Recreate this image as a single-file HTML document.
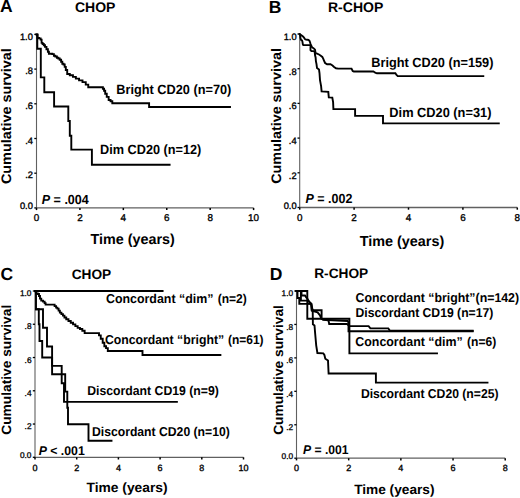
<!DOCTYPE html>
<html><head><meta charset="utf-8"><style>
html,body{margin:0;padding:0;background:#fff;}
svg{display:block;}
</style></head><body>
<svg width="520" height="498" viewBox="0 0 520 498" font-family="Liberation Sans, sans-serif" font-weight="bold" fill="#000" text-rendering="geometricPrecision">
<line x1="36.50" y1="34.40" x2="36.50" y2="207.90" stroke="#606060" stroke-width="1.1"/>
<line x1="36.50" y1="207.90" x2="253.60" y2="207.90" stroke="#606060" stroke-width="1.3"/>
<line x1="34.30" y1="207.90" x2="36.50" y2="207.90" stroke="#000" stroke-width="1.3"/>
<text x="32.90" y="208.90" font-size="9.3" text-anchor="end" font-weight="normal" stroke="#000" stroke-width="0.35">0.0</text>
<line x1="34.30" y1="173.20" x2="36.50" y2="173.20" stroke="#000" stroke-width="1.3"/>
<text x="32.90" y="178.40" font-size="9.3" text-anchor="end" font-weight="normal" stroke="#000" stroke-width="0.35">.2</text>
<line x1="34.30" y1="138.50" x2="36.50" y2="138.50" stroke="#000" stroke-width="1.3"/>
<text x="32.90" y="143.70" font-size="9.3" text-anchor="end" font-weight="normal" stroke="#000" stroke-width="0.35">.4</text>
<line x1="34.30" y1="103.80" x2="36.50" y2="103.80" stroke="#000" stroke-width="1.3"/>
<text x="32.90" y="109.00" font-size="9.3" text-anchor="end" font-weight="normal" stroke="#000" stroke-width="0.35">.6</text>
<line x1="34.30" y1="69.10" x2="36.50" y2="69.10" stroke="#000" stroke-width="1.3"/>
<text x="32.90" y="74.30" font-size="9.3" text-anchor="end" font-weight="normal" stroke="#000" stroke-width="0.35">.8</text>
<line x1="34.30" y1="34.40" x2="36.50" y2="34.40" stroke="#000" stroke-width="1.3"/>
<text x="32.90" y="39.60" font-size="9.3" text-anchor="end" font-weight="normal" stroke="#000" stroke-width="0.35">1.0</text>
<line x1="36.50" y1="207.90" x2="36.50" y2="210.10" stroke="#000" stroke-width="1.5"/>
<text x="36.50" y="220.90" font-size="9.9" text-anchor="middle" font-weight="normal" stroke="#000" stroke-width="0.35">0</text>
<line x1="79.92" y1="207.90" x2="79.92" y2="210.10" stroke="#000" stroke-width="1.5"/>
<text x="79.92" y="220.90" font-size="9.9" text-anchor="middle" font-weight="normal" stroke="#000" stroke-width="0.35">2</text>
<line x1="123.34" y1="207.90" x2="123.34" y2="210.10" stroke="#000" stroke-width="1.5"/>
<text x="123.34" y="220.90" font-size="9.9" text-anchor="middle" font-weight="normal" stroke="#000" stroke-width="0.35">4</text>
<line x1="166.76" y1="207.90" x2="166.76" y2="210.10" stroke="#000" stroke-width="1.5"/>
<text x="166.76" y="220.90" font-size="9.9" text-anchor="middle" font-weight="normal" stroke="#000" stroke-width="0.35">6</text>
<line x1="210.18" y1="207.90" x2="210.18" y2="210.10" stroke="#000" stroke-width="1.5"/>
<text x="210.18" y="220.90" font-size="9.9" text-anchor="middle" font-weight="normal" stroke="#000" stroke-width="0.35">8</text>
<line x1="253.60" y1="207.90" x2="253.60" y2="210.10" stroke="#000" stroke-width="1.5"/>
<text x="253.60" y="220.90" font-size="9.9" text-anchor="middle" font-weight="normal" stroke="#000" stroke-width="0.35">10</text>
<line x1="299.70" y1="34.00" x2="299.70" y2="207.50" stroke="#606060" stroke-width="1.1"/>
<line x1="299.70" y1="207.50" x2="517.30" y2="207.50" stroke="#606060" stroke-width="1.3"/>
<line x1="297.50" y1="207.50" x2="299.70" y2="207.50" stroke="#000" stroke-width="1.3"/>
<text x="296.60" y="208.50" font-size="9.3" text-anchor="end" font-weight="normal" stroke="#000" stroke-width="0.35">0.0</text>
<line x1="297.50" y1="172.80" x2="299.70" y2="172.80" stroke="#000" stroke-width="1.3"/>
<text x="296.60" y="178.70" font-size="9.3" text-anchor="end" font-weight="normal" stroke="#000" stroke-width="0.35">.2</text>
<line x1="297.50" y1="138.10" x2="299.70" y2="138.10" stroke="#000" stroke-width="1.3"/>
<text x="296.60" y="144.00" font-size="9.3" text-anchor="end" font-weight="normal" stroke="#000" stroke-width="0.35">.4</text>
<line x1="297.50" y1="103.40" x2="299.70" y2="103.40" stroke="#000" stroke-width="1.3"/>
<text x="296.60" y="109.30" font-size="9.3" text-anchor="end" font-weight="normal" stroke="#000" stroke-width="0.35">.6</text>
<line x1="297.50" y1="68.70" x2="299.70" y2="68.70" stroke="#000" stroke-width="1.3"/>
<text x="296.60" y="74.60" font-size="9.3" text-anchor="end" font-weight="normal" stroke="#000" stroke-width="0.35">.8</text>
<line x1="297.50" y1="34.00" x2="299.70" y2="34.00" stroke="#000" stroke-width="1.3"/>
<text x="296.60" y="39.90" font-size="9.3" text-anchor="end" font-weight="normal" stroke="#000" stroke-width="0.35">1.0</text>
<line x1="299.70" y1="207.50" x2="299.70" y2="209.70" stroke="#000" stroke-width="1.5"/>
<text x="299.70" y="220.70" font-size="9.9" text-anchor="middle" font-weight="normal" stroke="#000" stroke-width="0.35">0</text>
<line x1="354.10" y1="207.50" x2="354.10" y2="209.70" stroke="#000" stroke-width="1.5"/>
<text x="354.10" y="220.70" font-size="9.9" text-anchor="middle" font-weight="normal" stroke="#000" stroke-width="0.35">2</text>
<line x1="408.50" y1="207.50" x2="408.50" y2="209.70" stroke="#000" stroke-width="1.5"/>
<text x="408.50" y="220.70" font-size="9.9" text-anchor="middle" font-weight="normal" stroke="#000" stroke-width="0.35">4</text>
<line x1="462.90" y1="207.50" x2="462.90" y2="209.70" stroke="#000" stroke-width="1.5"/>
<text x="462.90" y="220.70" font-size="9.9" text-anchor="middle" font-weight="normal" stroke="#000" stroke-width="0.35">6</text>
<line x1="517.30" y1="207.50" x2="517.30" y2="209.70" stroke="#000" stroke-width="1.5"/>
<text x="517.30" y="220.70" font-size="9.9" text-anchor="middle" font-weight="normal" stroke="#000" stroke-width="0.35">8</text>
<line x1="35.00" y1="291.00" x2="35.00" y2="457.30" stroke="#606060" stroke-width="1.1"/>
<line x1="35.00" y1="457.30" x2="243.50" y2="457.30" stroke="#606060" stroke-width="1.3"/>
<line x1="32.80" y1="457.30" x2="35.00" y2="457.30" stroke="#000" stroke-width="1.3"/>
<text x="31.50" y="458.30" font-size="8.3" text-anchor="end" font-weight="normal" stroke="#000" stroke-width="0.3">0.0</text>
<line x1="32.80" y1="424.04" x2="35.00" y2="424.04" stroke="#000" stroke-width="1.3"/>
<text x="31.50" y="429.24" font-size="8.3" text-anchor="end" font-weight="normal" stroke="#000" stroke-width="0.3">.2</text>
<line x1="32.80" y1="390.78" x2="35.00" y2="390.78" stroke="#000" stroke-width="1.3"/>
<text x="31.50" y="395.98" font-size="8.3" text-anchor="end" font-weight="normal" stroke="#000" stroke-width="0.3">.4</text>
<line x1="32.80" y1="357.52" x2="35.00" y2="357.52" stroke="#000" stroke-width="1.3"/>
<text x="31.50" y="362.72" font-size="8.3" text-anchor="end" font-weight="normal" stroke="#000" stroke-width="0.3">.6</text>
<line x1="32.80" y1="324.26" x2="35.00" y2="324.26" stroke="#000" stroke-width="1.3"/>
<text x="31.50" y="329.46" font-size="8.3" text-anchor="end" font-weight="normal" stroke="#000" stroke-width="0.3">.8</text>
<line x1="32.80" y1="291.00" x2="35.00" y2="291.00" stroke="#000" stroke-width="1.3"/>
<text x="31.50" y="296.20" font-size="8.3" text-anchor="end" font-weight="normal" stroke="#000" stroke-width="0.3">1.0</text>
<line x1="35.00" y1="457.30" x2="35.00" y2="459.50" stroke="#000" stroke-width="1.5"/>
<text x="35.00" y="470.60" font-size="9.0" text-anchor="middle" font-weight="normal" stroke="#000" stroke-width="0.35">0</text>
<line x1="76.70" y1="457.30" x2="76.70" y2="459.50" stroke="#000" stroke-width="1.5"/>
<text x="76.70" y="470.60" font-size="9.0" text-anchor="middle" font-weight="normal" stroke="#000" stroke-width="0.35">2</text>
<line x1="118.40" y1="457.30" x2="118.40" y2="459.50" stroke="#000" stroke-width="1.5"/>
<text x="118.40" y="470.60" font-size="9.0" text-anchor="middle" font-weight="normal" stroke="#000" stroke-width="0.35">4</text>
<line x1="160.10" y1="457.30" x2="160.10" y2="459.50" stroke="#000" stroke-width="1.5"/>
<text x="160.10" y="470.60" font-size="9.0" text-anchor="middle" font-weight="normal" stroke="#000" stroke-width="0.35">6</text>
<line x1="201.80" y1="457.30" x2="201.80" y2="459.50" stroke="#000" stroke-width="1.5"/>
<text x="201.80" y="470.60" font-size="9.0" text-anchor="middle" font-weight="normal" stroke="#000" stroke-width="0.35">8</text>
<line x1="243.50" y1="457.30" x2="243.50" y2="459.50" stroke="#000" stroke-width="1.5"/>
<text x="243.50" y="470.60" font-size="9.0" text-anchor="middle" font-weight="normal" stroke="#000" stroke-width="0.35">10</text>
<line x1="296.50" y1="291.00" x2="296.50" y2="458.20" stroke="#606060" stroke-width="1.1"/>
<line x1="296.50" y1="458.20" x2="505.22" y2="458.20" stroke="#606060" stroke-width="1.3"/>
<line x1="294.30" y1="458.20" x2="296.50" y2="458.20" stroke="#000" stroke-width="1.3"/>
<text x="293.10" y="459.20" font-size="8.3" text-anchor="end" font-weight="normal" stroke="#000" stroke-width="0.3">0.0</text>
<line x1="294.30" y1="424.76" x2="296.50" y2="424.76" stroke="#000" stroke-width="1.3"/>
<text x="293.10" y="429.96" font-size="8.3" text-anchor="end" font-weight="normal" stroke="#000" stroke-width="0.3">.2</text>
<line x1="294.30" y1="391.32" x2="296.50" y2="391.32" stroke="#000" stroke-width="1.3"/>
<text x="293.10" y="396.52" font-size="8.3" text-anchor="end" font-weight="normal" stroke="#000" stroke-width="0.3">.4</text>
<line x1="294.30" y1="357.88" x2="296.50" y2="357.88" stroke="#000" stroke-width="1.3"/>
<text x="293.10" y="363.08" font-size="8.3" text-anchor="end" font-weight="normal" stroke="#000" stroke-width="0.3">.6</text>
<line x1="294.30" y1="324.44" x2="296.50" y2="324.44" stroke="#000" stroke-width="1.3"/>
<text x="293.10" y="329.64" font-size="8.3" text-anchor="end" font-weight="normal" stroke="#000" stroke-width="0.3">.8</text>
<line x1="294.30" y1="291.00" x2="296.50" y2="291.00" stroke="#000" stroke-width="1.3"/>
<text x="293.10" y="296.20" font-size="8.3" text-anchor="end" font-weight="normal" stroke="#000" stroke-width="0.3">1.0</text>
<line x1="296.50" y1="458.20" x2="296.50" y2="460.40" stroke="#000" stroke-width="1.5"/>
<text x="296.50" y="470.90" font-size="9.0" text-anchor="middle" font-weight="normal" stroke="#000" stroke-width="0.35">0</text>
<line x1="348.68" y1="458.20" x2="348.68" y2="460.40" stroke="#000" stroke-width="1.5"/>
<text x="348.68" y="470.90" font-size="9.0" text-anchor="middle" font-weight="normal" stroke="#000" stroke-width="0.35">2</text>
<line x1="400.86" y1="458.20" x2="400.86" y2="460.40" stroke="#000" stroke-width="1.5"/>
<text x="400.86" y="470.90" font-size="9.0" text-anchor="middle" font-weight="normal" stroke="#000" stroke-width="0.35">4</text>
<line x1="453.04" y1="458.20" x2="453.04" y2="460.40" stroke="#000" stroke-width="1.5"/>
<text x="453.04" y="470.90" font-size="9.0" text-anchor="middle" font-weight="normal" stroke="#000" stroke-width="0.35">6</text>
<line x1="505.22" y1="458.20" x2="505.22" y2="460.40" stroke="#000" stroke-width="1.5"/>
<text x="505.22" y="470.90" font-size="9.0" text-anchor="middle" font-weight="normal" stroke="#000" stroke-width="0.35">8</text>
<text x="0.00" y="12.30" font-size="17.5" text-anchor="start" >A</text>
<text x="268.80" y="12.50" font-size="17.5" text-anchor="start" >B</text>
<text x="0.50" y="279.80" font-size="17.5" text-anchor="start" >C</text>
<text x="269.70" y="279.70" font-size="17.5" text-anchor="start" >D</text>
<text x="75.00" y="11.90" font-size="14" text-anchor="start" >CHOP</text>
<text x="328.00" y="11.90" font-size="14" text-anchor="start" >R-CHOP</text>
<text x="71.70" y="278.50" font-size="13.7" text-anchor="start" >CHOP</text>
<text x="314.20" y="278.00" font-size="13.7" text-anchor="start" >R-CHOP</text>
<text transform="translate(11.05,184.08) rotate(-90)" x="0" y="0" font-size="13.8" textLength="135.95" lengthAdjust="spacingAndGlyphs">Cumulative survival</text>
<text transform="translate(280.95,183.77) rotate(-90)" x="0" y="0" font-size="13.8" textLength="135.65" lengthAdjust="spacingAndGlyphs">Cumulative survival</text>
<text transform="translate(10.80,434.75) rotate(-90)" x="0" y="0" font-size="13.4" textLength="129.99" lengthAdjust="spacingAndGlyphs">Cumulative survival</text>
<text transform="translate(283.20,434.85) rotate(-90)" x="0" y="0" font-size="13.4" textLength="129.78" lengthAdjust="spacingAndGlyphs">Cumulative survival</text>
<text x="90.56" y="243.70" font-size="14.4" textLength="84.30" lengthAdjust="spacingAndGlyphs">Time (years)</text>
<text x="359.71" y="246.20" font-size="14.4" textLength="84.56" lengthAdjust="spacingAndGlyphs">Time (years)</text>
<text x="86.46" y="492.10" font-size="13.4" textLength="81.17" lengthAdjust="spacingAndGlyphs">Time (years)</text>
<text x="354.16" y="494.10" font-size="13.4" textLength="80.31" lengthAdjust="spacingAndGlyphs">Time (years)</text>
<text x="116.35" y="93.50" font-size="13.3" textLength="114.99" lengthAdjust="spacingAndGlyphs">Bright CD20 (n=70)</text>
<text x="100.05" y="153.70" font-size="13.3" textLength="101.29" lengthAdjust="spacingAndGlyphs">Dim CD20 (n=12)</text>
<text x="371.25" y="67.30" font-size="13.3" textLength="122.19" lengthAdjust="spacingAndGlyphs">Bright CD20 (n=159)</text>
<text x="389.34" y="117.40" font-size="13.3" textLength="102.10" lengthAdjust="spacingAndGlyphs">Dim CD20 (n=31)</text>
<text x="105.99" y="302.90" font-size="12.9" textLength="107.43" lengthAdjust="spacingAndGlyphs">Concordant “dim”</text>
<text x="217.70" y="302.90" font-size="12.9" textLength="29.10" lengthAdjust="spacingAndGlyphs">(n=2)</text>
<text x="104.90" y="343.80" font-size="12.9" textLength="119.21" lengthAdjust="spacingAndGlyphs">Concordant “bright”</text>
<text x="228.00" y="343.80" font-size="12.9" textLength="35.60" lengthAdjust="spacingAndGlyphs">(n=61)</text>
<text x="87.28" y="394.60" font-size="12.9" textLength="131.53" lengthAdjust="spacingAndGlyphs">Discordant CD19 (n=9)</text>
<text x="91.98" y="435.90" font-size="12.9" textLength="137.83" lengthAdjust="spacingAndGlyphs">Discordant CD20 (n=10)</text>
<text x="355.59" y="301.60" font-size="12.9" textLength="163.52" lengthAdjust="spacingAndGlyphs">Concordant “bright”(n=142)</text>
<text x="355.58" y="316.50" font-size="12.9" textLength="137.72" lengthAdjust="spacingAndGlyphs">Discordant CD19 (n=17)</text>
<text x="355.29" y="346.30" font-size="12.9" textLength="107.43" lengthAdjust="spacingAndGlyphs">Concordant “dim”</text>
<text x="467.00" y="346.30" font-size="12.9" textLength="29.21" lengthAdjust="spacingAndGlyphs">(n=6)</text>
<text x="360.88" y="397.80" font-size="12.9" textLength="137.62" lengthAdjust="spacingAndGlyphs">Discordant CD20 (n=25)</text>
<text x="41.77" y="204.40" font-size="13.2" textLength="46.99" lengthAdjust="spacingAndGlyphs"><tspan font-style="italic">P</tspan> = .004</text>
<text x="305.58" y="202.70" font-size="13.2" textLength="46.82" lengthAdjust="spacingAndGlyphs"><tspan font-style="italic">P</tspan> = .002</text>
<text x="38.68" y="454.50" font-size="12.6" textLength="46.06" lengthAdjust="spacingAndGlyphs"><tspan font-style="italic">P</tspan> &lt; .001</text>
<text x="302.98" y="454.10" font-size="12.6" textLength="45.56" lengthAdjust="spacingAndGlyphs"><tspan font-style="italic">P</tspan> = .001</text>
<path d="M36.50,34.40 L36.85,34.40 L36.85,34.80 L37.20,34.80 L37.60,34.80 L37.60,38.00 L38.00,38.00 L39.00,38.00 L39.00,38.40 L40.00,38.40 L40.60,38.40 L40.60,39.60 L41.20,39.60 L41.60,39.60 L41.60,42.90 L42.00,42.90 L42.60,42.90 L42.60,44.00 L43.20,44.00 L43.80,44.00 L43.80,45.30 L44.40,45.30 L45.00,45.30 L45.00,46.90 L45.60,46.90 L46.45,46.90 L46.45,49.30 L47.30,49.30 L47.90,49.30 L47.90,51.70 L48.50,51.70 L48.90,51.70 L48.90,53.70 L49.30,53.70 L51.30,53.70 L52.30,53.70 L52.30,54.10 L53.30,54.10 L53.90,54.10 L53.90,55.70 L54.50,55.70 L55.30,55.70 L55.30,56.50 L56.10,56.50 L56.90,56.50 L56.90,57.70 L57.70,57.70 L58.30,57.70 L58.30,58.50 L58.90,58.50 L59.70,58.50 L59.70,59.70 L60.50,59.70 L61.10,59.70 L61.10,61.70 L61.70,61.70 L62.30,61.70 L62.30,63.70 L62.90,63.70 L63.50,63.70 L63.50,64.50 L64.10,64.50 L64.70,64.50 L64.70,66.90 L65.30,66.90 L65.80,66.90 L65.80,70.00 L66.30,70.00 L67.20,70.00 L67.20,74.00 L68.10,74.00 L69.80,74.00 L69.80,75.20 L71.50,75.20 L72.95,75.20 L72.95,76.90 L74.40,76.90 L75.85,76.90 L75.85,78.60 L77.30,78.60 L79.05,78.60 L79.05,80.40 L80.80,80.40 L82.50,80.40 L82.50,82.10 L84.20,82.10 L85.75,82.10 L85.75,84.60 L87.30,84.60 L88.25,84.60 L88.25,87.30 L89.20,87.30 L102.30,87.30 L102.90,87.30 L102.90,88.80 L103.50,88.80 L104.05,88.80 L104.05,90.80 L104.60,90.80 L105.20,90.80 L105.20,93.80 L105.80,93.80 L106.75,93.80 L106.75,96.90 L107.70,96.90 L108.65,96.90 L108.65,100.00 L109.60,100.00 L110.55,100.00 L110.55,101.20 L111.50,101.20 L112.30,101.20 L112.30,103.20 L113.10,103.20 L149.10,103.20 L149.10,107.00 L230.00,107.00" fill="none" stroke="#000" stroke-width="1.9" stroke-linejoin="miter" stroke-linecap="square"/>
<path d="M36.50,34.40 L37.30,34.40 L37.30,48.70 L40.80,48.70 L40.80,77.40 L44.30,77.40 L44.30,92.20 L54.10,92.20 L54.10,106.50 L68.30,106.50 L68.30,121.00 L69.80,121.00 L69.80,135.70 L71.30,135.70 L71.30,149.60 L91.90,149.60 L91.90,164.80 L169.60,164.80" fill="none" stroke="#000" stroke-width="1.9" stroke-linejoin="miter" stroke-linecap="square"/>
<path d="M299.70,34.20 L300.70,34.70 L301.70,35.50 L303.00,36.50 L303.80,37.30 L304.60,38.60 L305.40,39.40 L307.20,39.70 L308.50,39.90 L309.60,41.00 L310.10,42.50 L310.60,44.10 L311.40,46.00 L312.00,47.20 L313.80,48.40 L315.00,49.60 L315.30,51.40 L315.60,53.30 L317.10,53.60 L319.00,54.50 L320.80,55.70 L322.30,56.90 L323.20,58.70 L324.10,60.80 L325.10,63.00 L327.10,64.30 L330.50,64.30 L332.50,65.50 L334.10,67.00 L336.00,68.30 L338.10,68.60 L351.50,68.60 L352.70,71.00 L353.80,71.50 L373.40,71.50 L375.20,72.70 L376.90,73.30 L395.40,73.30 L396.50,75.00 L397.70,76.10 L483.30,76.10" fill="none" stroke="#000" stroke-width="1.9" stroke-linejoin="miter" stroke-linecap="square"/>
<path d="M299.70,34.20 L300.20,35.70 L300.40,37.80 L301.00,39.90 L302.00,40.40 L302.50,42.00 L302.80,44.10 L303.30,45.10 L309.80,45.10 L310.50,45.50 L310.50,50.20 L311.40,51.10 L313.80,51.10 L314.70,52.00 L315.00,55.10 L315.60,57.50 L315.90,61.10 L316.50,64.10 L317.00,68.00 L319.00,69.50 L319.50,73.00 L320.00,80.10 L321.10,86.10 L321.60,91.40 L328.30,91.80 L328.80,97.40 L332.30,97.60 L333.10,102.20 L333.40,109.10 L355.10,109.10 L355.10,115.90 L383.00,115.90 L383.00,123.40 L498.80,123.40" fill="none" stroke="#000" stroke-width="1.9" stroke-linejoin="miter" stroke-linecap="square"/>
<path d="M35.00,291.00 L162.60,291.00" fill="none" stroke="#000" stroke-width="1.9" stroke-linejoin="miter" stroke-linecap="square"/>
<path d="M35.50,291.30 L36.25,291.30 L36.25,293.50 L37.00,293.50 L37.75,293.50 L37.75,294.00 L38.50,294.00 L39.00,294.00 L39.00,296.00 L39.50,296.00 L40.00,296.00 L40.00,298.60 L40.50,298.60 L41.25,298.60 L41.25,300.60 L42.00,300.60 L43.05,300.60 L43.05,301.60 L44.10,301.60 L44.60,301.60 L44.60,303.10 L45.10,303.10 L45.60,303.10 L45.60,304.60 L46.10,304.60 L53.60,304.60 L54.60,304.60 L54.60,306.10 L55.60,306.10 L56.10,306.10 L56.10,307.60 L56.60,307.60 L57.35,307.60 L57.35,308.60 L58.10,308.60 L58.60,308.60 L58.60,310.60 L59.10,310.60 L59.85,310.60 L59.85,312.60 L60.60,312.60 L61.40,312.60 L61.40,314.10 L62.20,314.10 L62.95,314.10 L62.95,315.60 L63.70,315.60 L64.45,315.60 L64.45,317.50 L65.20,317.50 L66.25,317.50 L66.25,319.20 L67.30,319.20 L68.45,319.20 L68.45,321.00 L69.60,321.00 L70.75,321.00 L70.75,322.70 L71.90,322.70 L73.05,322.70 L73.05,324.40 L74.20,324.40 L75.35,324.40 L75.35,326.10 L76.50,326.10 L77.65,326.10 L77.65,327.90 L78.80,327.90 L79.95,327.90 L79.95,329.00 L81.10,329.00 L82.30,329.00 L82.30,330.80 L83.50,330.80 L84.65,330.80 L84.65,333.10 L85.80,333.10 L98.40,333.10 L99.00,333.10 L99.00,335.40 L99.60,335.40 L100.75,335.40 L100.75,338.80 L101.90,338.80 L102.70,338.80 L102.70,342.80 L103.50,342.80 L104.35,342.80 L104.35,346.30 L105.20,346.30 L106.05,346.30 L106.05,348.10 L106.90,348.10 L107.80,348.10 L107.80,351.00 L108.70,351.00 L142.50,351.00 L142.50,355.00 L220.40,355.00" fill="none" stroke="#000" stroke-width="1.9" stroke-linejoin="miter" stroke-linecap="square"/>
<path d="M35.00,291.00 L36.00,291.00 L36.00,309.30 L43.00,309.30 L43.00,327.80 L47.00,327.80 L47.00,346.50 L52.10,346.50 L52.10,365.90 L61.70,365.90 L61.70,383.20 L64.00,383.20 L64.00,401.90 L176.90,401.90" fill="none" stroke="#000" stroke-width="1.9" stroke-linejoin="miter" stroke-linecap="square"/>
<path d="M36.00,309.30 L38.80,309.30 L38.80,324.20 L39.50,324.20 L39.50,341.00 L42.20,341.00 L42.20,357.50 L52.10,357.50 L52.10,374.30 L65.20,374.30 L65.20,391.60 L67.30,391.60 L67.30,407.80 L68.00,407.80 L68.00,424.20 L88.50,424.20 L88.50,440.80 L111.50,440.80" fill="none" stroke="#000" stroke-width="1.9" stroke-linejoin="miter" stroke-linecap="square"/>
<path d="M296.50,291.00 L307.30,291.00 L307.30,318.70 L349.40,318.70 L349.40,353.40 L437.00,353.40" fill="none" stroke="#000" stroke-width="1.9" stroke-linejoin="miter" stroke-linecap="square"/>
<path d="M296.50,291.00 L297.50,291.00 L297.50,298.00 L299.30,298.00 L299.30,303.90 L306.80,303.90 L311.20,304.00 L311.80,310.50 L312.70,310.50 L312.90,324.20 L314.50,325.40 L315.20,334.00 L316.20,345.30 L317.40,353.00 L323.30,353.30 L324.40,355.00 L325.30,358.70 L328.00,360.50 L328.60,373.50 L375.90,373.50 L375.90,382.60 L487.50,382.60" fill="none" stroke="#000" stroke-width="1.9" stroke-linejoin="miter" stroke-linecap="square"/>
<path d="M296.50,291.00 L301.50,291.00 L301.50,295.50 L305.00,295.50 L306.20,297.40 L307.30,298.50 L309.50,302.30 L311.30,303.80 L312.80,311.00 L317.60,312.30 L320.00,315.30 L321.30,318.60 L328.50,320.50 L329.20,324.00 L347.00,324.00 L349.50,326.10 L368.60,326.10 L370.40,328.40 L388.30,328.40 L390.00,330.70 L472.70,330.70" fill="none" stroke="#000" stroke-width="1.9" stroke-linejoin="miter" stroke-linecap="square"/>
<path d="M296.50,291.00 L300.90,291.00 L300.90,300.60 L307.30,300.60 L309.00,301.50 L311.30,303.80 L311.80,310.20 L321.60,310.20 L321.60,318.60 L323.00,319.80 L347.70,321.00 L348.50,322.70 L348.50,331.30 L472.70,331.30" fill="none" stroke="#000" stroke-width="1.9" stroke-linejoin="miter" stroke-linecap="square"/>
</svg>
</body></html>
